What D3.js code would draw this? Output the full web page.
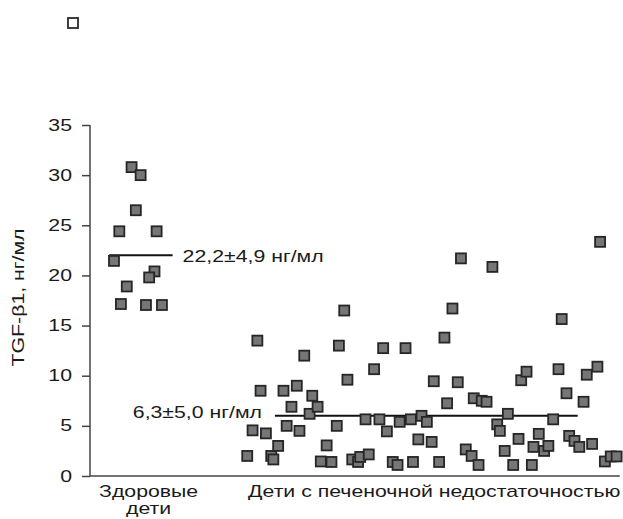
<!DOCTYPE html>
<html>
<head>
<meta charset="utf-8">
<script src="https://cdn.jsdelivr.net/npm/d3@7"></script>
<style>
  html, body { margin: 0; padding: 0; background: #fff; }
  svg { display: block; }
  text { font-family: "Liberation Sans", Arial, sans-serif; fill: #1a1a1a; }
</style>
</head>
<body>
<svg id="chart" width="623" height="519"></svg>
<script>
// ---------------- data ----------------
const yTicks = [0, 5, 10, 15, 20, 25, 30, 35];
const yTitle = "TGF-\u03b21, нг/мл";
const categories = ["Здоровые\nдети", "Дети с печеночной недостаточностью"];
const categoryPos = [11, 64.6]; // position along the jitter axis (0-100)

// Healthy children: jitter position and TGF-b1 value
const healthyX = [7.8, 9.5, 8.6, 5.5, 12.5, 4.5, 12.1, 11.1, 6.9, 5.8, 10.5, 13.5];
const healthyY = [30.8, 30.0, 26.5, 24.4, 24.4, 21.45, 20.4, 19.8, 18.9, 17.15, 17.05, 17.05];

// Children with liver failure
const liverX = [29.5, 30.5, 31.4, 32.0, 33.0, 34.0, 34.4, 35.3, 36.3, 36.9, 37.8, 38.8, 39.3, 40.2, 41.2,
  41.7, 42.7, 43.3, 44.4, 45.3, 46.3, 46.7, 47.7, 48.3, 49.2, 50.3, 50.7, 51.7, 52.3, 53.3,
  54.3, 55.0, 55.7, 56.8, 57.7, 58.1, 59.2, 60.2, 60.6, 61.6, 62.2, 63.2, 64.1, 64.5, 65.5,
  66.5, 67.0, 68.0, 69.0, 69.6, 70.5, 71.6, 72.0, 72.9, 73.5, 74.4, 75.5, 76.4, 76.9, 77.8,
  78.4, 79.4, 80.4, 80.9, 81.9, 82.9, 83.2, 84.2, 85.2, 86.0, 86.9, 87.9, 88.5, 89.4, 89.9,
  90.9, 91.8, 92.6, 93.2, 94.2, 95.2, 95.7, 96.6, 97.7, 98.8];
const liverY = [2.0, 4.55, 13.5, 8.5, 4.25, 2.0, 1.65, 3.0, 8.5, 5.0, 6.9, 9.0, 4.5, 12.0, 6.2,
  8.0, 6.9, 1.45, 3.05, 1.4, 5.0, 13.0, 16.5, 9.6, 1.65, 1.4, 1.9, 5.65, 2.15, 10.65,
  5.65, 12.75, 4.45, 1.4, 1.1, 5.4, 12.75, 5.65, 1.4, 3.65, 6.0, 5.4, 3.4, 9.45, 1.4,
  13.8, 7.25, 16.7, 9.35, 21.7, 2.65, 2.0, 7.75, 1.1, 7.5, 7.4, 20.85, 5.15, 4.5, 2.5,
  6.2, 1.1, 3.7, 9.55, 10.4, 1.1, 2.9, 4.2, 2.5, 3.0, 5.65, 10.65, 15.65, 8.25, 4.0,
  3.5, 2.9, 7.4, 10.1, 3.2, 10.9, 23.35, 1.45, 1.95, 1.95];

// Group mean lines (as drawn) and their labels
const meanValues = [22.0, 6.0];
const meanFrom = [3.6, 34.7];
const meanTo = [15.5, 91.5];
const meanLabels = ["22,2\u00b14,9 нг/мл", "6,3\u00b15,0 нг/мл"];

// ---------------- drawing ----------------
const svg = d3.select("#chart");
const SX = 1.33;          // wide typeface: horizontal stretch of glyphs
const FS = 16;

const x = d3.scaleLinear().domain([0, 100]).range([90, 623]);
const y = d3.scaleLinear().domain([0, 35]).range([476, 125]);

function label(px, py, str, anchor, rot, size) {
  const g = svg.append("g")
    .attr("transform", `translate(${px},${py}) rotate(${rot || 0}) scale(${SX},1)`);
  g.append("text")
    .attr("text-anchor", anchor || "start")
    .attr("font-size", size || FS)
    .text(str);
  return g;
}

// legend remnant (empty square) at top left
svg.append("rect")
  .attr("x", 68).attr("y", 18).attr("width", 10).attr("height", 10)
  .attr("fill", "#fff").attr("stroke", "#2a2a2a").attr("stroke-width", 1.8);

// Y axis
const yAxis = svg.append("g")
  .attr("transform", `translate(${x(0)},0)`)
  .call(d3.axisLeft(y).tickValues(yTicks).tickSize(8).tickPadding(10).tickFormat(d3.format("d")));
yAxis.select(".domain").attr("stroke", "#444").attr("stroke-width", 1.5)
  .attr("d", `M0,${y(35)}V${y(0)}`);
yAxis.selectAll(".tick line").attr("stroke", "#444").attr("stroke-width", 1.5);
yAxis.selectAll(".tick text").each(function () {
  const t = d3.select(this);
  const tx = +t.attr("x");
  t.attr("x", 0).attr("transform", `translate(${tx},0) scale(${SX},1)`)
    .attr("font-size", FS).attr("font-family", null).attr("fill", "#1a1a1a");
});

// X axis line
svg.append("line")
  .attr("x1", x(0)).attr("x2", x(99.4))
  .attr("y1", y(0)).attr("y2", y(0))
  .attr("stroke", "#444").attr("stroke-width", 1.5);

// Y title
label(24, y(17.8), yTitle, "middle", -90, FS);

// category labels
categories.forEach((c, i) => {
  c.split("\n").forEach((line, j) => {
    label(x(categoryPos[i]), 497 + j * 17, line, "middle", 0, FS);
  });
});

// mean lines
meanValues.forEach((m, i) => {
  svg.append("line")
    .attr("x1", x(meanFrom[i])).attr("x2", x(meanTo[i]))
    .attr("y1", y(m)).attr("y2", y(m))
    .attr("stroke", "#111").attr("stroke-width", 2);
});
label(x(meanTo[0]) + 10, y(meanValues[0]) + 7, meanLabels[0], "start", 0, FS);
label(x(meanFrom[1]) - 13, y(meanValues[1]) + 2, meanLabels[1], "end", 0, FS);

// points
const S = 10;
function drawPoints(xs, ys) {
  svg.append("g").selectAll("rect")
    .data(xs.map((d, i) => [d, ys[i]]))
    .join("rect")
    .attr("x", d => x(d[0]) - S / 2)
    .attr("y", d => y(d[1]) - S / 2)
    .attr("width", S).attr("height", S)
    .attr("fill", "#767676")
    .attr("stroke", "#262626")
    .attr("stroke-width", 1.8);
}
drawPoints(healthyX, healthyY);
drawPoints(liverX, liverY);
</script>
</body>
</html>
